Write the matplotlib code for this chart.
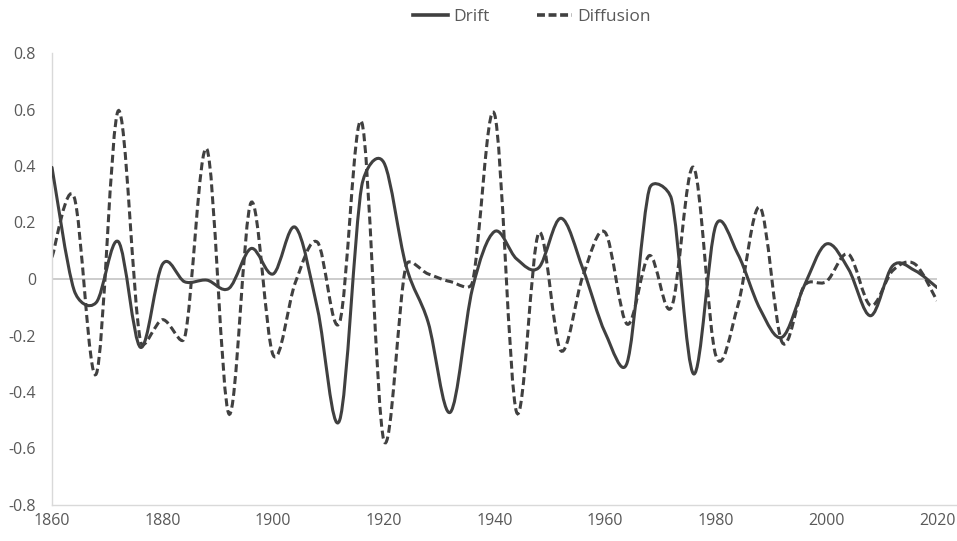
import matplotlib.pyplot as plt
import numpy as np
from matplotlib.path import Path
from matplotlib.patches import PathPatch
from matplotlib.lines import Line2D

plt.rcParams['font.family'] = ['Open Sans', 'DejaVu Sans']

years = list(range(1860, 2021, 4))
drift = [0.395, -0.04, -0.083, 0.132, -0.242, 0.053, -0.01, -0.004, -0.033, 0.108,
         0.018, 0.183, -0.106, -0.50, 0.33, 0.412, 0.047, -0.153, -0.472, -0.035,
         0.168, 0.071, 0.04, 0.215, 0.035, -0.19, -0.295, 0.319, 0.283, -0.336,
         0.189, 0.088, -0.106, -0.206, -0.024, 0.124, 0.035, -0.13, 0.047, 0.03,
         -0.03]
diffusion = [0.077, 0.29, -0.336, 0.596, -0.22, -0.144, -0.206, 0.46, -0.478, 0.271,
             -0.27, -0.012, 0.13, -0.153, 0.555, -0.572, 0.047, 0.018, -0.009, -0.012,
             0.584, -0.472, 0.163, -0.254, 0.012, 0.165, -0.16, 0.083, -0.1, 0.395,
             -0.27, -0.094, 0.254, -0.224, -0.024, -0.009, 0.088, -0.094, 0.03, 0.053,
             -0.077]
xticks = [1860, 1880, 1900, 1920, 1940, 1960, 1980, 2000, 2020]
yticks = [-0.8, -0.6, -0.4, -0.2, 0, 0.2, 0.4, 0.6, 0.8]

line_col = '#404040'
text_col = '#595959'

fig = plt.figure(figsize=(9.57, 5.41), dpi=100)
ax = fig.add_axes([52 / 957, 1 - 505 / 541, (937 - 52) / 957, (505 - 53) / 541])
ax.set_xlim(1860, 2020)
ax.set_ylim(-0.8, 0.8)


def smooth_path(x, y):
    # excel style smoothing: bezier control points at 1/6 of the neighbour chord,
    # capped at half the segment length (measured on screen)
    xs = np.asarray(x, float)
    ys = np.asarray(y, float)
    pix = ax.transData.transform(np.column_stack([xs, ys]))
    n = len(xs)
    verts = [(xs[0], ys[0])]
    codes = [Path.MOVETO]
    for i in range(n - 1):
        i0, i1, i2, i3 = max(i - 1, 0), i, i + 1, min(i + 2, n - 1)
        d12 = np.hypot(*(pix[i2] - pix[i1]))
        d02 = np.hypot(*(pix[i2] - pix[i0]))
        d13 = np.hypot(*(pix[i3] - pix[i1]))
        f1 = 1 / 6 if d02 / 6 < d12 / 2 else d12 / d02 / 2
        f2 = 1 / 6 if d13 / 6 < d12 / 2 else d12 / d13 / 2
        c1 = (xs[i1] + f1 * (xs[i2] - xs[i0]), ys[i1] + f1 * (ys[i2] - ys[i0]))
        c2 = (xs[i2] - f2 * (xs[i3] - xs[i1]), ys[i2] - f2 * (ys[i3] - ys[i1]))
        verts += [c1, c2, (xs[i2], ys[i2])]
        codes += [Path.CURVE4] * 3
    return Path(verts, codes)


ax.axhline(0, color='#bfbfbf', lw=1.1, zorder=1)

ax.add_patch(PathPatch(smooth_path(years, drift), fill=False, edgecolor=line_col,
                       lw=2.2, capstyle='round', joinstyle='round', zorder=3))
ax.add_patch(PathPatch(smooth_path(years, diffusion), fill=False, edgecolor=line_col,
                       lw=2.2, linestyle=(0, (2.6, 1.3)), zorder=2))

ax.set_xticks(xticks)
ax.set_yticks(yticks)
ax.set_yticklabels(['-0.8', '-0.6', '-0.4', '-0.2', '0', '0.2', '0.4', '0.6', '0.8'])

for s in ['top', 'right', 'bottom']:
    ax.spines[s].set_visible(False)
ax.spines['left'].set_color('#d9d9d9')
ax.spines['left'].set_linewidth(1.0)
# bottom axis line runs on to the right edge of the chart
ax.plot([0, (957 - 52) / 885], [0, 0], transform=ax.transAxes, color='#d9d9d9',
        lw=1.0, clip_on=False)
ax.tick_params(length=0, colors=text_col, labelsize=11.5)
ax.tick_params(axis='y', pad=11.5)
ax.tick_params(axis='x', pad=6)

handles = [Line2D([], [], color=line_col, lw=2.6),
           Line2D([], [], color=line_col, lw=2.6, linestyle=(0, (2.2, 1.0)))]
fig.legend(handles, ['Drift', 'Diffusion'], loc='center', bbox_to_anchor=(532 / 957, 1 - 17 / 541),
           ncol=2, frameon=False, fontsize=12.5, labelcolor=text_col,
           handlelength=2.0, columnspacing=2.75, handletextpad=0.3)

fig.savefig('out.png', dpi=100)
